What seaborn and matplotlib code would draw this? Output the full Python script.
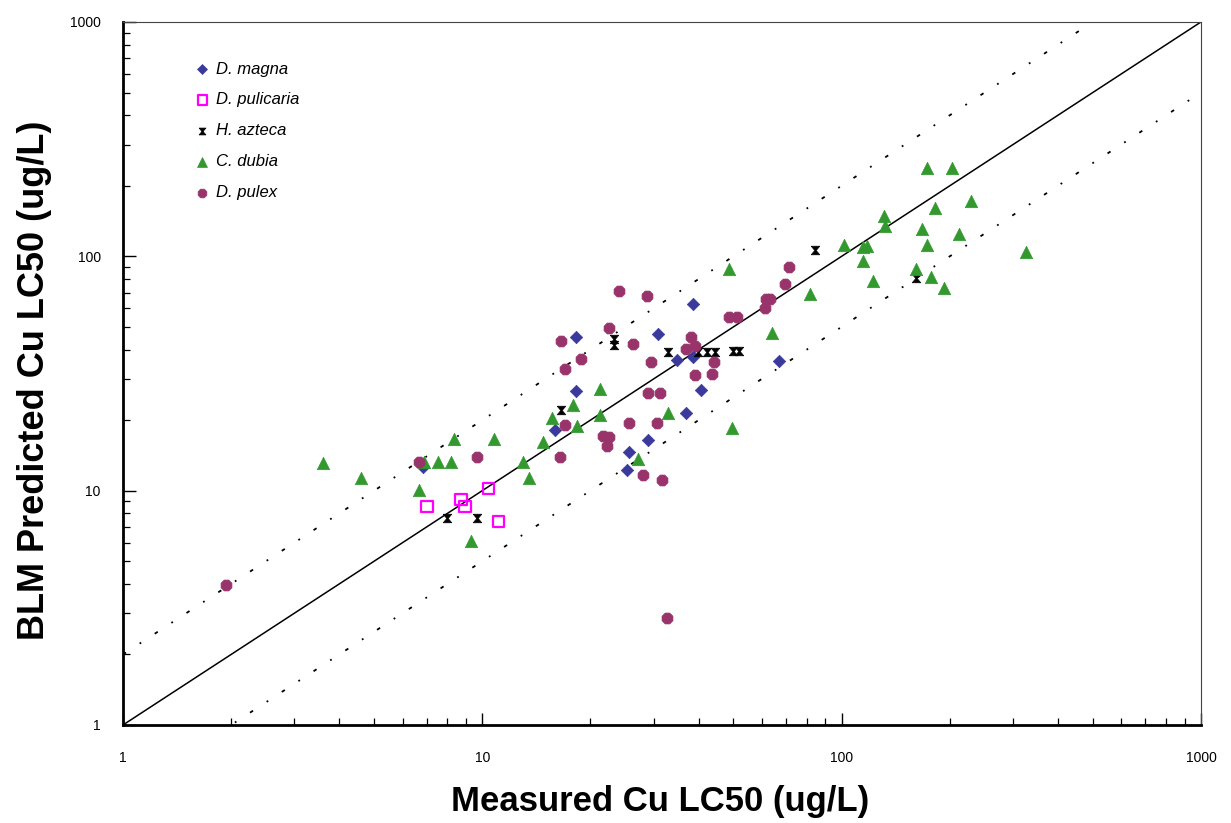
import numpy as np
import pandas as pd
import matplotlib
matplotlib.use("Agg")
import matplotlib.pyplot as plt
import seaborn as sns
from matplotlib.ticker import LogLocator, FixedLocator, FixedFormatter, NullFormatter

# ---- data (measured, predicted) ----
magna_x = [6.84, 15.9, 18.2, 18.2, 30.8, 38.6, 34.8, 38.6, 40.6, 36.9, 28.9, 25.6, 25.3, 66.9]
magna_y = [12.6, 18.1, 26.6, 45.3, 46.6, 62.7, 36.1, 37.2, 26.9, 21.4, 16.4, 14.6, 12.2, 35.8]

pulicaria_x = [7.02, 10.4, 8.73, 8.95, 11.1]
pulicaria_y = [8.57, 10.2, 9.18, 8.57, 7.39]

azteca_x = [7.97, 9.67, 16.6, 23.3, 23.3, 32.9, 39.8, 42.2, 44.4, 49.9, 51.8, 84.3, 161]
azteca_y = [7.61, 7.61, 22.1, 44.4, 41.9, 39.1, 39.1, 39.1, 39.1, 39.5, 39.5, 106.7, 81]

dubia_x = [3.60, 4.60, 6.67, 6.88, 7.53, 8.18, 8.35, 10.8, 13.0, 13.5, 9.30, 14.8, 15.6,
           17.9, 18.3, 21.3, 21.3, 32.9, 27.1, 49.5, 48.6, 64.0, 81.7, 101.6, 117.7, 114.7,
           114.7, 122, 131, 132, 161, 167, 173, 173, 177, 182, 193, 203, 212, 229, 326]
dubia_y = [13.1, 11.3, 10.1, 13.2, 13.2, 13.2, 16.6, 16.6, 13.2, 11.3, 6.07, 16.1, 20.4,
           23.2, 18.8, 27.1, 21.0, 21.4, 13.6, 18.5, 88.5, 47.1, 69.2, 112, 111, 110,
           95.8, 78.6, 149, 135, 88.5, 131, 237, 112, 81.8, 160, 73.4, 237, 124, 173, 104]

pulex_x = [1.94, 6.67, 9.67, 16.5, 17.0, 17.0, 16.6, 18.8, 22.5, 21.7, 22.5, 22.2, 25.6,
           26.3, 24.0, 28.7, 29.5, 28.9, 31.2, 30.6, 28.0, 31.6, 32.7, 38.1, 39.1, 36.9,
           44.2, 39.1, 43.6, 48.6, 51.2, 61.2, 63.2, 61.6, 69.6, 71.4]
pulex_y = [3.97, 13.2, 13.9, 13.9, 19.0, 33.0, 43.5, 36.5, 49.5, 17.1, 16.9, 15.5, 19.4,
           42.3, 71.3, 67.8, 35.4, 26.1, 26.1, 19.4, 11.7, 11.1, 2.87, 45.3, 41.5, 40.2,
           35.4, 31.2, 31.5, 55.2, 55.2, 60.3, 65.9, 65.9, 76.4, 90.3]

species = ["D. magna", "D. pulicaria", "H. azteca", "C. dubia", "D. pulex"]
xs = [magna_x, pulicaria_x, azteca_x, dubia_x, pulex_x]
ys = [magna_y, pulicaria_y, azteca_y, dubia_y, pulex_y]

tick_vals = [1, 10, 100, 1000]
tick_labels = ["1", "10", "100", "1000"]
ref_x = [1, 1000]

sns.set_style("white")
plt.rcParams["font.family"] = ["Liberation Sans", "DejaVu Sans"]
plt.rcParams["text.color"] = "black"
plt.rcParams["axes.labelcolor"] = "black"
plt.rcParams["xtick.color"] = "black"
plt.rcParams["ytick.color"] = "black"

fig = plt.figure(figsize=(12.31, 8.23), dpi=100)
ax = fig.add_axes([0.0999, 0.1191, 0.8757, 0.8542])

hourglass = [(-1, 1), (1, 1), (0.25, 0.1), (0.25, -0.1), (1, -1), (-1, -1),
             (-0.25, -0.1), (-0.25, 0.1), (-1, 1)]

styles = {
    "D. magna": dict(marker="D", s=40, color="#3a3a9c", edgecolor="#3a3a9c", linewidth=0.5),
    "D. pulicaria": dict(marker="s", s=70, facecolors="none", edgecolors="#ff00ff", linewidth=1.6),
    "H. azteca": dict(marker=hourglass, s=38, color="black", edgecolor="black", linewidth=0.5),
    "C. dubia": dict(marker="^", s=80, color="#33992f", edgecolor="#33992f", linewidth=0.5),
    "D. pulex": dict(marker="8", s=72, color="#99336b", edgecolor="#99336b", linewidth=0.5),
}

for sp, x, y in zip(species, xs, ys):
    df = pd.DataFrame({"Measured": x, "Predicted": y})
    sns.scatterplot(data=df, x="Measured", y="Predicted", ax=ax, label=sp, zorder=3, **styles[sp])

# reference lines
rx = np.array(ref_x, dtype=float)
ax.plot(rx, rx, color="black", lw=1.1, zorder=2)
ax.plot(rx, rx * 2, color="black", lw=1.3, ls=(0, (2, 9, 1, 9)), zorder=2)
ax.plot(rx, rx / 2, color="black", lw=1.3, ls=(0, (2, 9, 1, 9)), zorder=2)

ax.set_xscale("log")
ax.set_yscale("log")
ax.set_xlim(1, 1000)
ax.set_ylim(1, 1000)

for axis in (ax.xaxis, ax.yaxis):
    axis.set_major_locator(FixedLocator(tick_vals))
    axis.set_major_formatter(FixedFormatter(tick_labels))
    axis.set_minor_locator(LogLocator(base=10, subs=np.arange(2, 10)))
    axis.set_minor_formatter(NullFormatter())

ax.tick_params(which="major", direction="in", length=9, width=1.0, labelsize=10,
               top=False, right=False, bottom=True, left=True)
ax.tick_params(which="minor", direction="in", length=5, width=0.9,
               top=False, right=False, bottom=True, left=True)
ax.tick_params(axis="x", which="major", pad=19)
ax.tick_params(axis="y", which="major", pad=16)

for side in ["left", "bottom"]:
    ax.spines[side].set_linewidth(2.0)
    ax.spines[side].set_color("black")
for side in ["top", "right"]:
    ax.spines[side].set_linewidth(0.8)
    ax.spines[side].set_color("#444444")

ax.set_xlabel("Measured Cu LC50 (ug/L)", fontsize=25, fontweight="bold")
ax.set_ylabel("BLM Predicted Cu LC50 (ug/L)", fontsize=26, fontweight="bold")
ax.xaxis.set_label_coords(0.498, -0.086)
ax.yaxis.set_label_coords(-0.066, 0.49)

leg = ax.legend(loc="upper left", bbox_to_anchor=(0.055, 0.965), frameon=False,
                fontsize=12, handlelength=0.6, handletextpad=0.5, labelspacing=0.95,
                markerscale=0.8)
for t in leg.get_texts():
    t.set_fontstyle("italic")

fig.savefig("out.png", dpi=100, facecolor="white")
